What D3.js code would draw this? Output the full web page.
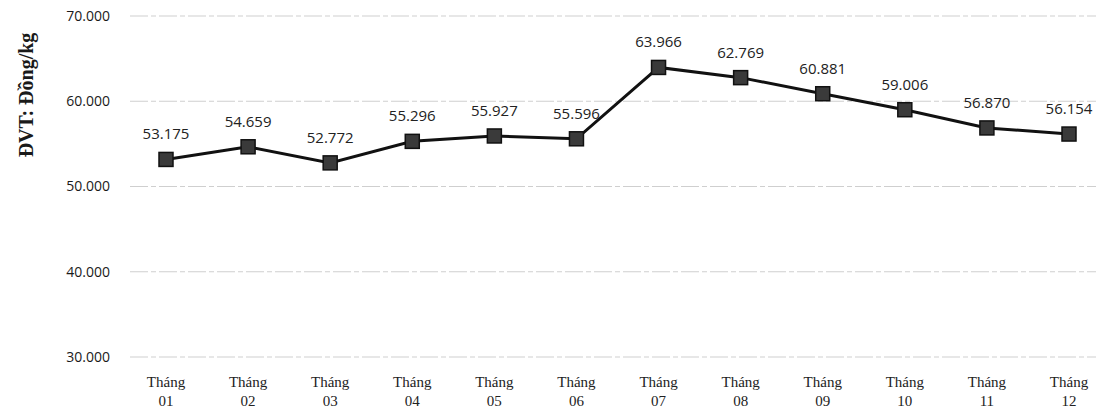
<!DOCTYPE html>
<html>
<head>
<meta charset="utf-8">
<script src="https://cdn.jsdelivr.net/npm/d3@7"></script>
<style>
  body { margin: 0; background: #fff; }
</style>
</head>
<body>
<div id="chart"></div>
<script>
const months = ['01', '02', '03', '04', '05', '06', '07', '08', '09', '10', '11', '12'];
const prices = [53175, 54659, 52772, 55296, 55927, 55596, 63966, 62769, 60881, 59006, 56870, 56154];
const yTicks = [30000, 40000, 50000, 60000, 70000];
const yLabel = 'ĐVT: Đồng/kg';

let widthContainer  = 1106;
let heightContainer = 413;
const markerSize    = 14;

const fmt = v => d3.format(',')(v).replace(/,/g, '.');

let svg = d3.select('#chart')
  .append('svg')
  .attr('width',  widthContainer)
  .attr('height', heightContainer);

let xScale = d3.scalePoint()
  .domain(months)
  .range([166, 1069]);

let yScale = d3.scaleLinear()
  .domain([30000, 70000])
  .range([357, 16]);

// gridlines
svg.append('g')
  .selectAll('line')
  .data(yTicks)
  .enter()
  .append('line')
  .attr('x1', 130)
  .attr('x2', 1096)
  .attr('y1', d => yScale(d))
  .attr('y2', d => yScale(d))
  .style('stroke', '#cfcfcf')
  .style('stroke-width', 1)
  .style('stroke-dasharray', '18 3 5 3');

// y-axis
svg.append('g')
  .attr('class', 'y-axis')
  .attr('transform', 'translate(110, 0)')
  .style('font-family', '"Open Sans", "Noto Sans", sans-serif')
  .style('font-size', '14px')
  .call(d3.axisLeft(yScale).tickValues(yTicks).tickSize(0).tickPadding(0).tickFormat(fmt))
  .call(g => g.select('.domain').remove())
  .selectAll('text')
  .style('fill', '#1a1a1a');

// x-axis, two lines per tick
let xAxis = svg.append('g')
  .attr('class', 'x-axis')
  .style('font-family', '"Liberation Serif", "DejaVu Serif", serif')
  .style('font-size', '15px')
  .style('fill', '#222');

let ticks = xAxis.selectAll('text')
  .data(months)
  .enter()
  .append('text')
  .attr('text-anchor', 'middle')
  .attr('x', d => xScale(d));

ticks.append('tspan').attr('x', d => xScale(d)).attr('y', 387).text('Tháng');
ticks.append('tspan').attr('x', d => xScale(d)).attr('y', 406).text(d => d);

// y label
svg.append('text')
  .attr('transform', 'rotate(-90)')
  .attr('x', -95)
  .attr('y', 33)
  .style('text-anchor', 'middle')
  .style('font-family', '"Liberation Serif", "DejaVu Serif", serif')
  .style('font-weight', 'bold')
  .style('font-size', '20px')
  .style('fill', '#1a1a1a')
  .text(yLabel);

const data = months.map((m, i) => ({month: m, value: prices[i]}));

// line
svg.append('path')
  .datum(data)
  .attr('d', d3.line().x(d => xScale(d.month)).y(d => yScale(d.value)))
  .style('fill', 'none')
  .style('stroke', '#111')
  .style('stroke-width', 3);

// markers
svg.append('g')
  .selectAll('rect')
  .data(data)
  .enter()
  .append('rect')
  .attr('x', d => xScale(d.month) - markerSize / 2)
  .attr('y', d => yScale(d.value) - markerSize / 2)
  .attr('width',  markerSize)
  .attr('height', markerSize)
  .style('fill', '#3a3a3a')
  .style('stroke', '#111')
  .style('stroke-width', 1.5);

// data labels
svg.append('g')
  .selectAll('text')
  .data(data)
  .enter()
  .append('text')
  .attr('x', d => xScale(d.month))
  .attr('y', d => yScale(d.value) - 20)
  .attr('text-anchor', 'middle')
  .style('font-family', '"Open Sans", "Noto Sans", sans-serif')
  .style('font-size', '15px')
  .style('fill', '#222')
  .text(d => fmt(d.value));
</script>
</body>
</html>
